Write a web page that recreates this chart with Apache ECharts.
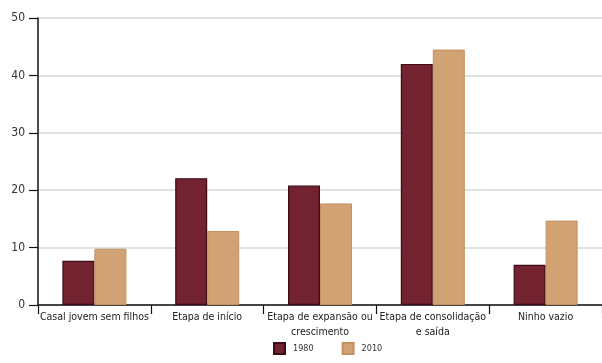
<!DOCTYPE html>
<html>
<head>
<meta charset="utf-8">
<script src="https://cdn.jsdelivr.net/npm/echarts@6/dist/echarts.min.js"></script>
<style>
  html, body { margin: 0; padding: 0; background: #fff; }
  #chart { width: 602px; height: 363px; }
</style>
</head>
<body>
<div id="chart"></div>
<script>
// Family life-cycle stages, share in 1980 and 2010
const categories = ['Casal jovem sem filhos', 'Etapa de início', 'Etapa de expansão ou\ncrescimento', 'Etapa de consolidação\ne saída', 'Ninho vazio'];
const values1980 = [7.7, 22.1, 20.8, 42.0, 7.0];
const values2010 = [9.8, 12.9, 17.7, 44.5, 14.7];
const yTicks = [0, 10, 20, 30, 40, 50];

const font = "'DejaVu Sans Condensed', Roboto, sans-serif";

const chart = echarts.init(document.getElementById('chart'));
chart.setOption({
  animation: false,
  textStyle: { fontFamily: font },
  grid: { left: 38, right: -5, top: 18, bottom: 58 },
  legend: {
    bottom: 3,
    left: 268,
    icon: 'rect',
    itemWidth: 11,
    itemHeight: 11,
    itemGap: 28,
    textStyle: { fontSize: 9, color: '#333', fontFamily: font, padding: [0, 0, 0, 3] },
    data: ['1980', '2010']
  },
  xAxis: {
    type: 'category',
    data: categories,
    axisLine: { lineStyle: { color: '#111', width: 1.5 } },
    axisTick: { show: true, length: 9, lineStyle: { color: '#111', width: 1.2 } },
    axisLabel: { fontSize: 10.5, color: '#222', lineHeight: 15, margin: 5, interval: 0 }
  },
  yAxis: {
    type: 'value',
    min: yTicks[0],
    max: yTicks[yTicks.length - 1],
    interval: 10,
    axisLine: { show: true, lineStyle: { color: '#111', width: 1.5 } },
    axisTick: { show: true, length: 9, lineStyle: { color: '#111', width: 1.2 } },
    axisLabel: { fontSize: 12, color: '#333', margin: 13 },
    splitLine: { lineStyle: { color: '#d3d8d8', width: 1.5 } }
  },
  series: [
    {
      name: '1980',
      type: 'bar',
      data: values1980,
      barWidth: 32,
      barGap: '0%',
      itemStyle: { color: '#72232f', borderColor: '#3e0a14', borderWidth: 1.2 }
    },
    {
      name: '2010',
      type: 'bar',
      data: values2010,
      barWidth: 32,
      itemStyle: { color: '#d1a273', borderColor: '#c39162', borderWidth: 1 }
    }
  ]
});
</script>
</body>
</html>
